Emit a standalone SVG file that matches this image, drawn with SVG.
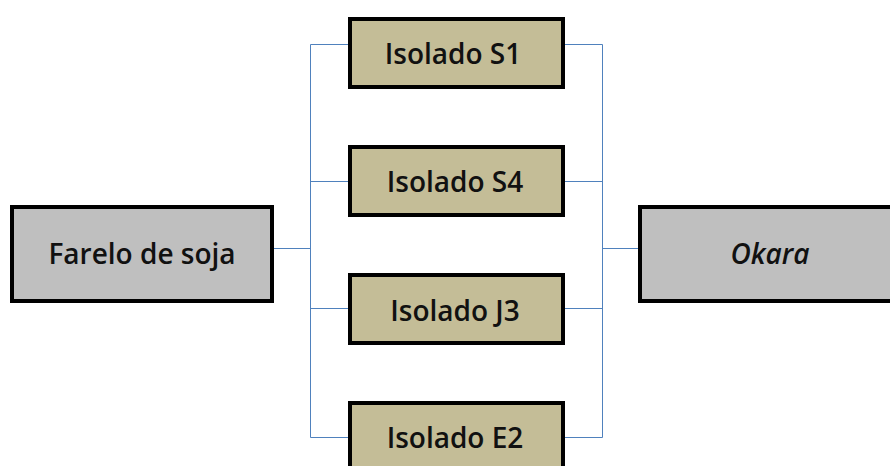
<svg xmlns="http://www.w3.org/2000/svg" width="890" height="466" viewBox="0 0 890 466">
<style>
.box{stroke:#000;stroke-width:4}
.grey{fill:#BFBFBF}
.tan{fill:#C4BD97}
.lbl{font-family:"Open Sans","Liberation Sans",sans-serif;font-size:28px;font-weight:600;fill:#111;text-anchor:middle}
.conn{fill:none;stroke:#4F81BD;stroke-width:1}
</style>
<rect width="890" height="466" fill="#fff"/>
<g id="connectors">
<path class="conn" d="M274 248.5H310.5M310.5 44.5V437.5M310.5 44.5H350M310.5 181.5H350M310.5 308.5H350M310.5 437.5H350"/>
<path class="conn" d="M563 44.5H602.5M563 181.5H602.5M563 308.5H602.5M563 437.5H602.5M602.5 44.5V437.5M602.5 248.5H640"/>
</g>
<g id="farelo">
<rect class="box grey" x="12" y="207" width="260" height="94"/>
<text class="lbl" x="142" y="264">Farelo de soja</text>
</g>
<g id="s1">
<rect class="box tan" x="350" y="19" width="213" height="68"/>
<text class="lbl" x="453" y="64">Isolado S1</text>
</g>
<g id="s4">
<rect class="box tan" x="350" y="147" width="213" height="68"/>
<text class="lbl" x="455" y="192">Isolado S4</text>
</g>
<g id="j3">
<rect class="box tan" x="350" y="275" width="213" height="68"/>
<text class="lbl" x="455" y="321">Isolado J3</text>
</g>
<g id="e2">
<rect class="box tan" x="350" y="403" width="213" height="68"/>
<text class="lbl" x="455" y="448">Isolado E2</text>
</g>
<g id="okara">
<rect class="box grey" x="640" y="207" width="262" height="94"/>
<text class="lbl" x="770" y="264" font-style="italic">Okara</text>
</g>
</svg>
